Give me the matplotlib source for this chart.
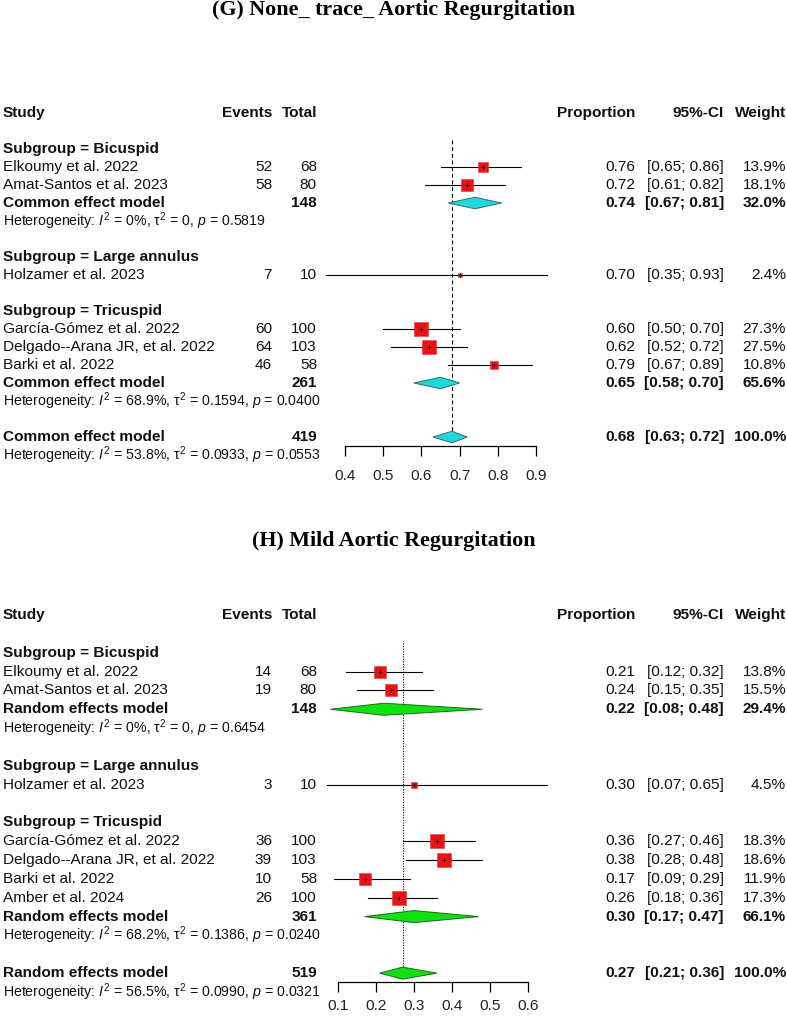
import numpy as np
import matplotlib
matplotlib.use("Agg")
import matplotlib.pyplot as plt
from matplotlib.transforms import blended_transform_factory

matplotlib.rcParams.update({
    "font.family": ["Liberation Sans", "DejaVu Sans"],
    "mathtext.fontset": "custom",
    "mathtext.rm": "Liberation Sans",
    "mathtext.it": "Liberation Sans:italic",
    "mathtext.bf": "Liberation Sans:bold",
})

W, H = 787, 1016

# ---- (G) None/trace AR ----
studies_g = ["Elkoumy et al. 2022", "Amat-Santos et al. 2023", "Holzamer et al. 2023",
             "García-Gómez et al. 2022", "Delgado--Arana JR, et al. 2022", "Barki et al. 2022"]
group_g = ["Bicuspid", "Bicuspid", "Large annulus", "Tricuspid", "Tricuspid", "Tricuspid"]
events_g = [52, 58, 7, 60, 64, 46]
total_g = [68, 80, 10, 100, 103, 58]
prop_g = [0.76, 0.72, 0.70, 0.60, 0.62, 0.79]
lo_g = [0.65, 0.61, 0.35, 0.50, 0.52, 0.67]
hi_g = [0.86, 0.82, 0.93, 0.70, 0.72, 0.89]
weight_g = [13.9, 18.1, 2.4, 27.3, 27.5, 10.8]
sub_g = {  # group: (total, est, lo, hi, weight, I2, tau2, p)
    "Bicuspid": (148, 0.74, 0.67, 0.81, 32.0, "0%", "0", "0.5819"),
    "Tricuspid": (261, 0.65, 0.58, 0.70, 65.6, "68.9%", "0.1594", "0.0400"),
}
overall_g = (419, 0.68, 0.63, 0.72, 100.0, "53.8%", "0.0933", "0.0553")
ticks_g = [0.4, 0.5, 0.6, 0.7, 0.8, 0.9]

# ---- (H) Mild AR ----
studies_h = ["Elkoumy et al. 2022", "Amat-Santos et al. 2023", "Holzamer et al. 2023",
             "García-Gómez et al. 2022", "Delgado--Arana JR, et al. 2022", "Barki et al. 2022",
             "Amber et al. 2024"]
group_h = ["Bicuspid", "Bicuspid", "Large annulus", "Tricuspid", "Tricuspid", "Tricuspid",
           "Tricuspid"]
events_h = [14, 19, 3, 36, 39, 10, 26]
total_h = [68, 80, 10, 100, 103, 58, 100]
prop_h = [0.21, 0.24, 0.30, 0.36, 0.38, 0.17, 0.26]
lo_h = [0.12, 0.15, 0.07, 0.27, 0.28, 0.09, 0.18]
hi_h = [0.32, 0.35, 0.65, 0.46, 0.48, 0.29, 0.36]
weight_h = [13.8, 15.5, 4.5, 18.3, 18.6, 11.9, 17.3]
sub_h = {
    "Bicuspid": (148, 0.22, 0.08, 0.48, 29.4, "0%", "0", "0.6454"),
    "Tricuspid": (361, 0.30, 0.17, 0.47, 66.1, "68.2%", "0.1386", "0.0240"),
}
overall_h = (519, 0.27, 0.21, 0.36, 100.0, "56.5%", "0.0990", "0.0321")
ticks_h = [0.1, 0.2, 0.3, 0.4, 0.5, 0.6]

FS = 11.1
FS_HET = 10.2


def het_label(i2, tau2, p):
    return rf"Heterogeneity: $I^2$ = {i2}, τ$^2$ = {tau2}, $p$ = {p}"


def draw_panel(fig, studies, groups, events, total, prop, lo, hi, weight, subs, overall,
               ticks, model, y0, dy, y_axis, x_lo, x_hi, diam_col, diam_edge, refstyle,
               tick_pad=9.5):
    # y0: pixel of header row, dy: row height, y_axis: pixel of the axis line
    r_axis = (y_axis - y0) / dy
    ax = fig.add_axes([x_lo / W, 1 - y_axis / H, (x_hi - x_lo) / W,
                       (y_axis - (y0 - 0.5 * dy)) / H])
    ax.set_xlim(ticks[0], ticks[-1])
    ax.set_ylim(r_axis, -0.5)
    for s in ["top", "left", "right"]:
        ax.spines[s].set_visible(False)
    ax.spines["bottom"].set_linewidth(0.9)
    ax.set_xticks(ticks)
    ax.set_xticklabels([f"{t:.1f}" for t in ticks], fontsize=FS, color="#222222")
    ax.tick_params(axis="x", length=7, width=0.9, pad=tick_pad)
    ax.set_yticks([])
    ax.patch.set_alpha(0)

    tr = blended_transform_factory(fig.transFigure, ax.transData)

    def txt(px, row, s, ha="left", bold=False, size=FS):
        ax.text(px / W, row, s, transform=tr, ha=ha, va="center", fontsize=size,
                fontweight="bold" if bold else "normal", color="#111111", clip_on=False)

    # column headers
    txt(3, 0, "Study", bold=True)
    txt(272, 0, "Events", ha="right", bold=True)
    txt(317, 0, "Total", ha="right", bold=True)
    txt(635, 0, "Proportion", ha="right", bold=True)
    txt(724, 0, "95%-CI", ha="right", bold=True)
    txt(786, 0, "Weight", ha="right", bold=True)

    wmax = max(weight)
    px_per_pt = fig.dpi / 72.0

    def diamond(row, est, l, h, half=0.32):
        ax.fill([l, est, h, est], [row, row - half, row, row + half], facecolor=diam_col,
                edgecolor=diam_edge, lw=0.7, zorder=4, clip_on=False)

    def stats(row, est, l, h, w, bold):
        txt(635, row, f"{est:.2f}", ha="right", bold=bold)
        txt(724, row, f"[{l:.2f}; {h:.2f}]", ha="right", bold=bold)
        txt(786, row, f"{w:.1f}%", ha="right", bold=bold)

    row = 2
    order = list(dict.fromkeys(groups))
    for g in order:
        txt(3, row, f"Subgroup = {g}", bold=True)
        row += 1
        idx = [i for i, gg in enumerate(groups) if gg == g]
        for i in idx:
            txt(3, row, studies[i])
            txt(272, row, str(events[i]), ha="right")
            txt(317, row, str(total[i]), ha="right")
            stats(row, prop[i], lo[i], hi[i], weight[i], False)
            ax.plot([lo[i], hi[i]], [row, row], color="black", lw=0.8, zorder=3,
                    clip_on=False)
            side = 14 * np.sqrt(weight[i] / wmax) / px_per_pt
            ax.scatter([prop[i]], [row], marker="s", s=side ** 2, facecolor="#ee1111",
                       edgecolor="#d04040", linewidths=0.4, zorder=5, clip_on=False)
            ax.scatter([prop[i]], [row], marker="+", s=6, color="black", linewidths=0.6,
                       zorder=6, clip_on=False)
            row += 1
        if g in subs:
            n, est, l, h, w, i2, tau2, p = subs[g]
            txt(3, row, model, bold=True)
            txt(317, row, str(n), ha="right", bold=True)
            stats(row, est, l, h, w, True)
            diamond(row, est, l, h)
            row += 1
            txt(3, row, het_label(i2, tau2, p), size=FS_HET)
            row += 1
        row += 1

    n, est, l, h, w, i2, tau2, p = overall
    txt(3, row, model, bold=True)
    txt(317, row, str(n), ha="right", bold=True)
    stats(row, est, l, h, w, True)
    diamond(row, est, l, h)
    txt(3, row + 1, het_label(i2, tau2, p), size=FS_HET)
    ax.plot([est, est], [1.5, row], color="black", lw=0.8, linestyle=refstyle, zorder=2,
            clip_on=False)
    return ax


fig = plt.figure(figsize=(W / 100, H / 100), dpi=100)

fig.text(0.5, 1 - 10 / H, "(G) None_ trace_ Aortic Regurgitation", ha="center", va="center",
         family="Liberation Serif", fontweight="bold", fontsize=15.8)
fig.text(0.5, 1 - 541 / H, "(H) Mild Aortic Regurgitation", ha="center", va="center",
         family="Liberation Serif", fontweight="bold", fontsize=15.8)

draw_panel(fig, studies_g, group_g, events_g, total_g, prop_g, lo_g, hi_g, weight_g,
           sub_g, overall_g, ticks_g, "Common effect model",
           y0=113, dy=18.0, y_axis=446, x_lo=345, x_hi=536,
           diam_col="#20d8d8", diam_edge="#2a7070", refstyle=(0, (3.5, 2.5)))

draw_panel(fig, studies_h, group_h, events_h, total_h, prop_h, lo_h, hi_h, weight_h,
           sub_h, overall_h, ticks_h, "Random effects model",
           y0=615, dy=18.85, y_axis=982, x_lo=338, x_hi=528,
           diam_col="#11e011", diam_edge="#1a6a1a", refstyle=(0, (1, 1.3)),
           tick_pad=5.5)

fig.savefig("out.png", dpi=100)
